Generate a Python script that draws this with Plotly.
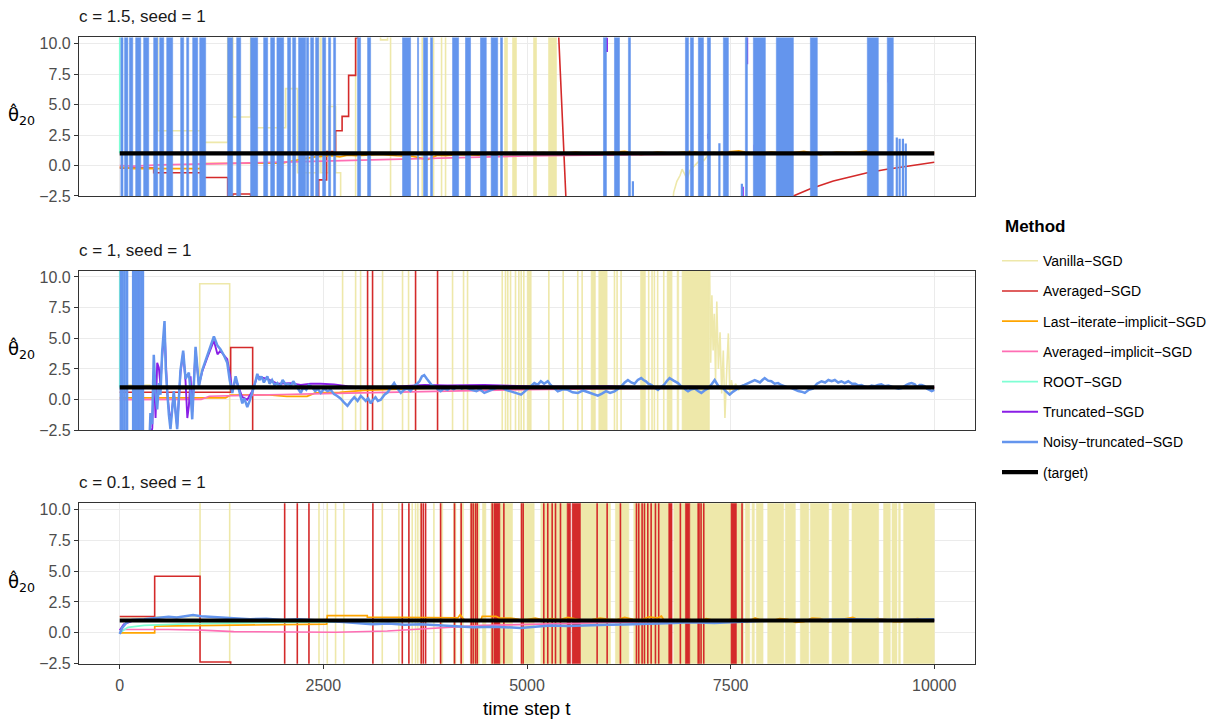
import plotly.graph_objects as go
from plotly.subplots import make_subplots

# ---------------------------------------------------------------- constants
T_END = 10000
TARGET = 1.0
HI, LO = 60.0, -60.0            # off-scale levels (diverged estimates)

METHODS = ["Vanilla\u2212SGD", "Averaged\u2212SGD", "Last\u2212iterate\u2212implicit\u2212SGD",
           "Averaged\u2212implicit\u2212SGD", "ROOT\u2212SGD", "Truncated\u2212SGD",
           "Noisy\u2212truncated\u2212SGD"]
COLORS = ["#EEE8AA", "#D42A2A", "#FFA500", "#FF6EB4", "#7FFFD4", "#8A1EE6", "#6495ED"]
WIDTHS = [1.6, 1.6, 1.7, 1.7, 1.8, 1.9, 2.5]
PANEL_TITLES = ["c = 1.5, seed = 1", "c = 1, seed = 1", "c = 0.1, seed = 1"]
X_TICKS = [0, 2500, 5000, 7500, 10000]
Y_TICKS = [-2.5, 0.0, 2.5, 5.0, 7.5, 10.0]

# ================================================================ panel 1 : c = 1.5
p1_van_t = [0, 466, 994, 1325, 1387, 1607, 1669, 2037, 2184, 2442, 2470, 2564, 2650, 2712,
            2896, 3202, 3288, 3325, 3714, 3853, 3951, 4000, 6790]
p1_van_v = [HI, 2.85, 1.9, HI, 3.98, HI, 3.09, 6.3, -0.59, HI, -0.59, 4.84, -0.59, LO,
            HI, 10.3, HI, LO, HI, LO, HI, LO, LO]
p1_van_bands = [[4724, 4761], [4822, 4871], [5080, 5117], [5264, 5362]]
p1_van_tail_t = [6790, 6801, 6840, 6880, 6904, 6930, 6966, 7000, 7047, 7090, 7129, 7170,
                 7211, 7250, 7292, 7400, 7600, 8000, 8500, 9000, 9500, 10000]
p1_van_tail_v = [-3.0, -2.2, -1.3, -0.8, -0.3, -0.7, -1.1, -0.4, -0.05, 0.2, 0.48, 0.4,
                 0.75, 0.9, 1.1, 0.95, 1.0, 1.05, 0.95, 1.0, 1.05, 1.0]

p1_avg_t = [0, 417, 994, 1325, 1387, 1607, 2442, 2540, 2650, 2730, 2810, 2896, 2920, 5380]
p1_avg_v = [-0.2, -0.59, -0.99, LO, -2.34, LO, -1.18, 1.15, 2.85, 4.03, 7.39, 10.45, HI, HI]
p1_avg_tail_t = [5380, 5400, 5420, 5440, 5460, 5480, 5600, 8000, 8270, 8479, 8761, 9000,
                 9178, 9400, 9583, 9800, 10000]
p1_avg_tail_v = [12.0, 9.0, 6.0, 3.0, 0.0, -3.0, -40.0, -4.0, -2.5, -1.9, -1.27, -0.85,
                 -0.59, -0.33, -0.13, 0.08, 0.27]

p1_lii_t = [0, 170, 600, 990, 1000, 1500, 2000, 2100, 2200, 2300, 2400, 2500, 2600, 2700,
            2800, 2900, 3000, 3200, 3400, 3600, 3780, 3853, 3900, 4000, 4200, 4400, 4600,
            4800, 5000, 5200, 5400, 5600, 5800, 6000, 6200, 6400, 6600, 6800, 7000, 7200,
            7400, 7600, 7800, 8000, 8200, 8400, 8600, 8800, 9000, 9200, 9400, 9600, 9800,
            10000]
p1_lii_v = [-0.1, -0.25, -0.25, -0.25, 0.15, 0.2, 0.2, 0.35, 0.5, 0.6, 0.7, 0.75, 0.8, 0.7,
            0.85, 0.8, 0.85, 0.9, 0.8, 0.75, 0.48, 0.7, 0.85, 0.8, 0.9, 0.85, 0.95, 0.9,
            1.0, 1.05, 0.95, 1.1, 0.95, 1.05, 1.15, 0.9, 1.1, 1.0, 1.15, 0.95, 1.1, 1.2,
            0.95, 1.1, 1.0, 1.15, 0.9, 1.1, 1.05, 1.2, 0.95, 1.1, 1.0, 1.05]

p1_aim_t = [0, 170, 500, 1000, 1500, 2000, 2500, 3000, 3500, 4000, 4675, 5000, 5500, 6000,
            7000, 8000, 9000, 10000]
p1_aim_v = [0.0, -0.05, 0.05, 0.15, 0.2, 0.28, 0.37, 0.45, 0.55, 0.62, 0.75, 0.78, 0.83,
            0.88, 0.93, 0.96, 0.98, 1.0]

p1_root_t = [0, 1, 10000]
p1_root_v = [1.0, HI, HI]

# short visible pieces of the truncated-SGD trajectory: (t, from, to)
p1_tr_segs = [(5980, 9.3, 10.5), (7227, 2.2, 2.6), (7648, -2.5, -1.75), (7702, 8.3, 10.5),
              (7795, 1.0, 1.7), (7825, -2.15, -1.85), (7856, 2.6, 3.6), (7906, 4.5, 5.9),
              (8143, 3.7, 4.1), (8528, 6.0, 8.3), (9206, 2.9, 8.4), (9440, 6.8, 7.7)]

p1_nt_bands = [[14, 40], [60, 100], [120, 160], [196, 258], [294, 356], [417, 466],
               [491, 540], [577, 650], [748, 785], [822, 847], [896, 957], [982, 1055],
               [1325, 1387], [1436, 1485], [1607, 1693], [1767, 1816], [1853, 1900],
               [1930, 2012], [2061, 2098], [2123, 2160], [2196, 2282], [2294, 2319],
               [2344, 2380], [2405, 2442], [2491, 2528], [2564, 2589], [2626, 2650],
               [2920, 2957], [3043, 3080], [3472, 3571], [3656, 3669], [3730, 3779],
               [3816, 3840], [4086, 4160], [4245, 4307], [4429, 4500], [4560, 4640],
               [4675, 4699], [5939, 5975], [6074, 6135], [6245, 6270], [6945, 6982],
               [7006, 7043], [7104, 7166], [7215, 7252], [7411, 7472], [7681, 7706],
               [7779, 7926], [8061, 8270], [8479, 8564], [9178, 9313], [9423, 9497]]
p1_nt_segs = [(6300, LO, -1.3), (7362, LO, 1.83), (7638, LO, -1.5), (9540, LO, 2.3),
              (9575, LO, 2.2), (9615, LO, 2.2), (9650, LO, 1.8)]

# ================================================================ panel 2 : c = 1
p2_van_t = [0, 370, 982, 1350, 7240]
p2_van_v = [1.2, 1.0, 9.45, LO, LO]
p2_van_spikes = [2736, 2896, 2957, 3227, 3472, 3546, 4086, 4221, 4270, 4696, 4736, 4764,
                 4798, 4859, 4900, 4929, 4961, 5268, 5444, 5623, 5677, 6074, 6106, 6155,
                 6494, 6535, 6564, 6604, 6679]
p2_van_bands = [[5003, 5052], [5787, 5840], [5881, 5984], [6393, 6454], [6720, 6781],
                [6843, 6863], [6904, 7240]]
p2_van_tail_t = [7240, 7255, 7270, 7285, 7300, 7315, 7330, 7350, 7370, 7390, 7410, 7430,
                 7450, 7472, 7490, 7510, 7534, 7560, 7600, 7650, 7700, 7800, 8000, 8500,
                 9000, 9500, 10000]
p2_van_tail_v = [12.0, 3.0, 8.5, 4.0, 7.0, 1.5, 8.0, 2.5, 5.5, 0.5, 4.0, -1.5, 2.0, 5.4,
                 0.3, 1.6, 0.6, 1.3, 0.8, 1.2, 0.9, 1.05, 1.0, 1.0, 1.05, 1.0, 1.0]

p2_avg_t = [0, 1362, 1632, 3043, 3104, 3632, 3902, 10000]
p2_avg_v = [0.6, 4.25, LO, HI, LO, HI, LO, LO]

p2_lii_t = [0, 1300, 1360, 1800, 2050, 2300, 2400, 2700, 3000, 3300, 3600, 4000, 4500,
            5000, 5500, 6000, 6500, 7000, 7500, 8000, 8500, 9000, 9500, 10000]
p2_lii_v = [0.15, 0.15, 0.38, 0.4, 0.27, 0.27, 0.55, 0.6, 0.75, 0.85, 0.9, 0.95, 1.0, 0.95,
            1.05, 1.0, 0.95, 1.05, 0.9, 1.05, 0.95, 1.0, 1.05, 0.95]

p2_aim_t = [0, 1000, 1100, 1500, 2000, 2500, 3300, 4100, 5000, 6000, 7000, 8000, 10000]
p2_aim_v = [0.0, 0.02, 0.28, 0.32, 0.42, 0.5, 0.6, 0.75, 0.82, 0.9, 0.95, 0.98, 1.0]

p2_root_t = [0, 1, 10000]
p2_root_v = [1.0, HI, HI]

p2_tr_spikes = [170, 230, 270]
p2_tr_t = [360, 380, 400, 418, 440, 460, 480, 500, 521, 550, 583, 623, 664, 705, 746, 779,
           808, 830, 849, 870, 890, 931, 972, 1013, 1074, 1156, 1200, 1238, 1280, 1320,
           1360, 1382, 1423, 1464, 1505, 1566, 1628, 1689, 1812, 1935, 2099, 2222, 2345,
           2468, 2631, 2796, 2960, 3205, 3451, 3738, 4025, 4476, 5000, 5500, 6000, 6500,
           7000, 7500, 8000, 8500, 9000, 9500, 10000]
p2_tr_v = [-6.0, -3.0, -2.3, 2.3, -1.5, 3.0, 2.6, 1.2, 3.5, 5.8, 0.5, -2.0, 0.5, -2.2, 2.2,
           3.8, 1.5, -1.5, -0.5, 1.9, -1.0, 4.0, 1.2, 2.3, 3.4, 4.8, 3.7, 4.0, 3.6, 3.3,
           1.8, 0.7, 1.7, 0.9, 0.2, 0.0, 0.7, 1.9, 1.7, 1.3, 1.35, 1.2, 1.3, 1.3, 1.25,
           1.1, 1.0, 1.0, 1.1, 1.2, 1.15, 1.2, 1.1, 1.05, 1.1, 1.0, 1.05, 1.0, 1.05, 1.0,
           1.05, 1.0, 1.0]

p2_nt_spikes = [14, 35, 60, 90, 165, 190, 215, 240, 265, 285]
p2_nt_t = [350, 377, 398, 418, 440, 460, 480, 500, 521, 550, 565, 583, 603, 623, 644, 664,
           685, 705, 746, 779, 808, 849, 870, 890, 931, 972, 1013, 1074, 1110, 1156, 1200,
           1238, 1280, 1320, 1350, 1382, 1423, 1464,
           1505, 1530, 1566, 1595, 1628, 1655, 1689, 1715, 1740, 1770, 1812, 1840, 1870,
           1900, 1935, 1965, 2000, 2040, 2070, 2099, 2130, 2160, 2190, 2222, 2255, 2290,
           2320, 2345, 2375, 2400, 2430, 2468, 2510, 2550, 2590, 2631, 2670, 2710, 2750,
           2796, 2840, 2880, 2920, 2960, 2990, 3020, 3050, 3082, 3110, 3140, 3170, 3205,
           3250, 3290, 3330, 3369, 3410, 3451, 3490, 3530, 3570, 3615, 3650, 3680, 3710,
           3738, 3770, 3800, 3830, 3861, 3900, 3940, 3980, 4025, 4060, 4100, 4150, 4200,
           4240, 4271, 4320, 4380, 4420, 4476, 4530, 4580, 4630, 4681, 4740, 4800, 4860,
           4927, 4960, 5000, 5040, 5090, 5130, 5170, 5210, 5255, 5290, 5320, 5350, 5378,
           5440, 5500, 5560, 5624, 5690, 5750, 5810, 5870, 5920, 5970, 6020, 6074, 6120,
           6160, 6200, 6239, 6280, 6320, 6360, 6402, 6430, 6460, 6490, 6525, 6565, 6608,
           6640, 6680, 6715, 6750, 6800, 6854, 6890, 6920, 6950, 6977, 7020, 7060, 7100,
           7140, 7180, 7220, 7260, 7304, 7350, 7400, 7440, 7488, 7520, 7560, 7600, 7632,
           7670, 7710, 7750, 7796, 7830, 7860, 7890, 7918, 7960, 8000, 8040, 8083, 8120,
           8160, 8200, 8247, 8290, 8330, 8370, 8411, 8460, 8510, 8560, 8616, 8660, 8700,
           8740, 8779, 8820, 8860, 8900, 8944, 8990, 9030, 9070, 9107, 9150, 9190, 9230,
           9271, 9310, 9350, 9390, 9436, 9480, 9520, 9560, 9599, 9630, 9660, 9690, 9722,
           9760, 9790, 9820, 9845, 9880, 9910, 9940, 9968, 10000]
p2_nt_v = [-6.0, -1.09, -2.0, 3.66, 0.5, -0.8, 1.35, 0.4, 3.9, 6.4, 2.5, 0.2, -1.2, -2.4,
           -0.4, 0.7, -1.0, -2.4, 2.4, 4.0, 1.7, 2.2, 0.6, -1.6, 4.3, 1.1, 2.4, 3.5, 4.3,
           5.15, 4.4, 4.1, 3.6, 3.0, 1.6, 0.55, 1.9, 0.8,
           -0.3, 0.1, -0.6, -0.1, 0.55, 1.2, 2.1, 1.6, 1.9, 1.4, 1.9, 1.3, 1.6,
           1.2, 1.35, 1.0, 1.6, 1.2, 1.3, 1.1, 1.5, 1.2, 0.8, 0.55, 1.0, 0.8,
           1.2, 1.1, 0.9, 0.7, 0.9, 0.55, 0.9, 0.7, 0.8, 0.45, 0.3, 0.1, -0.2,
           -0.5, -0.1, 0.2, -0.1, 0.3, 0.1, -0.1, 0.1, -0.3, 0.0, 0.2, -0.1, 0.0,
           0.4, 0.6, 1.0, 1.35, 0.9, 0.55, 0.8, 0.9, 0.7, 1.1, 1.3, 1.5, 1.9,
           2.0, 1.7, 1.4, 1.2, 1.1, 0.9, 0.7, 0.9, 0.8, 1.0, 0.85, 1.1, 0.9,
           1.05, 0.95, 0.8, 0.7, 0.85, 0.55, 0.7, 0.8, 0.95, 1.1, 0.8, 0.7, 0.55,
           0.41, 0.6, 0.8, 1.1, 1.35, 1.2, 1.5, 1.3, 1.5, 1.2, 1.0, 0.8, 0.68,
           0.85, 0.8, 0.6, 0.55, 0.75, 0.6, 0.45, 0.33, 0.5, 0.7, 0.55, 0.68, 0.9,
           1.1, 1.4, 1.6, 1.4, 1.3, 1.6, 1.76, 1.6, 1.5, 1.3, 1.2, 1.0, 0.8,
           1.0, 1.2, 1.5, 1.76, 1.55, 1.35, 1.1, 1.0, 0.8, 0.68, 0.85, 0.9, 0.7,
           0.55, 0.75, 0.9, 1.2, 1.6, 1.1, 1.0, 0.7, 0.41, 0.6, 0.8, 1.0, 1.1,
           1.2, 1.3, 1.45, 1.6, 1.5, 1.4, 1.6, 1.76, 1.55, 1.5, 1.3, 1.35, 1.2,
           1.1, 1.0, 0.95, 0.8, 0.7, 0.65, 0.55, 0.8, 0.9, 1.3, 1.5, 1.4, 1.6,
           1.5, 1.6, 1.4, 1.5, 1.35, 1.5, 1.3, 1.3, 1.15, 1.2, 1.05, 1.0, 1.15,
           1.1, 1.2, 1.25, 1.1, 1.15, 1.05, 1.0, 0.9, 0.95, 1.1, 1.2, 1.3, 1.35,
           1.25, 1.0, 1.2, 1.2, 1.1, 0.9, 0.8, 0.7, 0.8]

# ================================================================ panel 3 : c = 0.1
p3_van_t = [0, 986, 1350, 10000]
p3_van_v = [1.3, HI, LO, LO]
p3_van_spikes = [2446, 2548, 2650, 2752, 3223, 3427, 3591, 3632, 3660, 3693, 3857]
p3_van_bands = [[3939, 3965], [4098, 4127], [4180, 4221], [4303, 4413], [4454, 4495],
                [4556, 4822], [4924, 5088], [5170, 5493], [5656, 6025], [6086, 6250],
                [6311, 6761], [6802, 7660], [7681, 7734], [7763, 7791], [7816, 7898],
                [7955, 8151], [8172, 8294], [8356, 8458], [8479, 8703], [8745, 8949],
                [8990, 9317], [9378, 9460], [9481, 9542], [9562, 9583], [9624, 10000]]

p3_avg_t = [0, 429, 986, 1362, 10000]
p3_avg_v = [1.32, 4.59, -2.36, LO, LO]
p3_avg_spikes = [2025, 2180, 2323, 3108, 3469, 3550, 3702, 3727, 3755, 3939, 4110, 4192,
                 4315, 4339, 4368, 4389, 4573, 4716, 4933, 4953, 5206, 5255, 5309, 5350,
                 5411, 5861, 5984, 6147, 6344, 6372, 6413, 6442, 6483, 6524, 6577, 6617,
                 6883, 7137, 7170, 7640]
p3_avg_bands = [[4593, 4667], [5493, 5534], [5554, 5656], [6740, 6781], [6945, 6998],
                [7096, 7120], [7505, 7571]]

p3_lii_t = [0, 429, 430, 2000, 2540, 2548, 3039, 3040, 3857, 3860, 4150, 4180, 4210, 4250,
            4430, 4450, 4620, 4660, 4800, 4900, 5000, 5100, 5200, 5300, 5400, 5500, 5600,
            5700, 5800, 5900, 6000, 6100, 6200, 6300, 6400, 6500, 6600, 6650, 6700, 6800,
            6900, 7000, 7100, 7200, 7300, 7400, 7500, 7600, 7700, 7800, 7900, 8000, 8100,
            8200, 8300, 8400, 8500, 8600, 8700, 8800, 8900, 9000, 9100, 9200, 9300, 9400,
            9500, 9600, 9700, 9800, 9900, 10000]
p3_lii_v = [0.0, 0.0, 0.55, 0.65, 0.7, 1.39, 1.39, 1.27, 1.27, 1.21, 1.21, 1.47, 1.2, 0.95,
            0.95, 1.34, 1.34, 1.2, 1.2, 1.1, 1.08, 1.2, 1.05, 1.15, 1.05, 1.25, 1.1,
            1.0, 1.08, 1.2, 1.1, 1.05, 1.25, 1.1, 1.05, 1.3, 1.2, 1.35, 0.85, 0.8,
            0.95, 1.1, 0.9, 1.15, 1.0, 0.9, 1.1, 1.05, 0.85, 1.2, 0.95, 0.95, 1.15,
            1.1, 0.85, 0.9, 1.2, 1.15, 0.9, 1.0, 1.1, 1.25, 0.95, 0.95, 1.15, 1.1,
            0.9, 0.9, 1.1, 1.15, 0.95, 1.05]

p3_aim_t = [0, 50, 600, 1000, 1400, 2200, 2650, 3285, 3857, 4450, 5170, 6000, 7000, 8000,
            10000]
p3_aim_v = [0.0, 0.27, 0.27, 0.22, 0.1, 0.08, 0.05, 0.15, 0.37, 0.6, 0.7, 0.85, 0.95, 0.98,
            1.0]

p3_root_t = [0, 100, 300, 800, 1500, 3000, 5000, 10000]
p3_root_v = [0.0, 0.45, 0.6, 0.72, 0.82, 0.92, 0.97, 1.0]

p3_tr_t = [0, 50, 150, 400, 1000, 3000, 10000]
p3_tr_v = [0.2, 0.7, 0.95, 1.0, 1.02, 1.0, 1.0]

p3_nt_t = [0, 30, 80, 150, 300, 500, 600, 700, 800, 900, 1000, 1100, 1200, 1400, 1600,
           1800, 2000, 2200, 2500, 2700, 2900, 3100, 3300, 3500, 3700, 3939, 4100, 4339,
           4600, 4920, 5100, 5290, 5500, 5750, 5984, 6200, 6400, 6600, 6800, 7000, 7300,
           7600, 8000, 8500, 9000, 9500, 10000]
p3_nt_v = [-0.1, 0.4, 0.8, 1.05, 1.1, 1.2, 1.3, 1.25, 1.35, 1.45, 1.35, 1.3, 1.25, 1.2,
           1.1, 1.15, 1.05, 1.1, 1.0, 0.9, 0.8, 0.7, 0.75, 0.65, 0.7, 0.6, 0.55, 0.46,
           0.5, 0.4, 0.5, 0.6, 0.55, 0.62, 0.65, 0.68, 0.7, 0.75, 0.8, 0.85, 0.8, 0.9,
           1.0, 1.05, 1.1, 1.05, 1.1]

TARGET_T = [0, T_END]

# ---------------------------------------------------------------- figure
fig = make_subplots(rows=3, cols=1)
shown = set()


def _legend(k):
    if k not in shown:
        shown.add(k)
        return True
    return False


def add_path(row, k, t, v, shape="linear"):
    fig.add_trace(go.Scatter(
        x=t, y=v, mode="lines", name=METHODS[k], legendgroup=METHODS[k],
        legendrank=k + 1, showlegend=_legend(k), hoverinfo="skip",
        line=dict(color=COLORS[k], width=WIDTHS[k], shape=shape)), row=row, col=1)


def add_spikes(row, k, times):
    xs, ys = [], []
    for s in times:
        xs += [s, s, None]
        ys += [LO, HI, None]
    fig.add_trace(go.Scatter(
        x=xs, y=ys, mode="lines", legendgroup=METHODS[k], showlegend=False,
        hoverinfo="skip", line=dict(color=COLORS[k], width=WIDTHS[k])), row=row, col=1)


def add_segments(row, k, segs):
    xs, ys = [], []
    for s, a, b in segs:
        xs += [s, s, None]
        ys += [a, b, None]
    fig.add_trace(go.Scatter(
        x=xs, y=ys, mode="lines", legendgroup=METHODS[k], showlegend=False,
        hoverinfo="skip", line=dict(color=COLORS[k], width=2.2)), row=row, col=1)


def add_bands(row, k, bands):
    xs, ys = [], []
    for a, b in bands:
        xs += [a, a, b, b, a, None]
        ys += [LO, HI, HI, LO, LO, None]
    fig.add_trace(go.Scatter(
        x=xs, y=ys, mode="lines", fill="toself", fillcolor=COLORS[k],
        legendgroup=METHODS[k], showlegend=False, hoverinfo="skip",
        line=dict(color=COLORS[k], width=0.6)), row=row, col=1)


def add_target(row):
    fig.add_trace(go.Scatter(
        x=TARGET_T, y=[TARGET, TARGET], mode="lines", name="(target)",
        legendgroup="(target)", legendrank=8, showlegend=(row == 1), hoverinfo="skip",
        line=dict(color="#000000", width=4.2)), row=row, col=1)


# panel 1
add_path(1, 0, p1_van_t, p1_van_v, "hv")
add_bands(1, 0, p1_van_bands)
add_path(1, 0, p1_van_tail_t, p1_van_tail_v)
add_path(1, 1, p1_avg_t, p1_avg_v, "hv")
add_path(1, 1, p1_avg_tail_t, p1_avg_tail_v)
add_path(1, 2, p1_lii_t, p1_lii_v)
add_path(1, 3, p1_aim_t, p1_aim_v)
add_path(1, 4, p1_root_t, p1_root_v, "hv")
add_segments(1, 5, p1_tr_segs)
add_bands(1, 6, p1_nt_bands)
add_segments(1, 6, p1_nt_segs)
add_target(1)

# panel 2
add_path(2, 0, p2_van_t, p2_van_v, "hv")
add_spikes(2, 0, p2_van_spikes)
add_bands(2, 0, p2_van_bands)
add_path(2, 0, p2_van_tail_t, p2_van_tail_v)
add_path(2, 1, p2_avg_t, p2_avg_v, "hv")
add_path(2, 2, p2_lii_t, p2_lii_v)
add_path(2, 3, p2_aim_t, p2_aim_v)
add_path(2, 4, p2_root_t, p2_root_v, "hv")
add_spikes(2, 5, p2_tr_spikes)
add_path(2, 5, p2_tr_t, p2_tr_v)
add_spikes(2, 6, p2_nt_spikes)
add_path(2, 6, p2_nt_t, p2_nt_v)
add_target(2)

# panel 3
add_path(3, 0, p3_van_t, p3_van_v, "hv")
add_spikes(3, 0, p3_van_spikes)
add_bands(3, 0, p3_van_bands)
add_path(3, 1, p3_avg_t, p3_avg_v, "hv")
add_spikes(3, 1, p3_avg_spikes)
add_bands(3, 1, p3_avg_bands)
add_path(3, 2, p3_lii_t, p3_lii_v)
add_path(3, 3, p3_aim_t, p3_aim_v)
add_path(3, 4, p3_root_t, p3_root_v)
add_path(3, 5, p3_tr_t, p3_tr_v)
add_path(3, 6, p3_nt_t, p3_nt_v)
add_target(3)

# ---------------------------------------------------------------- layout
W, H = 1215, 719
X_DOM = [79 / W, 975 / W]
PANEL_PX = [(36, 197), (273, 435), (509, 672)]
FONT = "Liberation Sans, Arial, Helvetica, sans-serif"

axis_common = dict(showline=True, mirror=True, linecolor="#333333", linewidth=1.1,
                   showgrid=True, gridcolor="#EBEBEB", gridwidth=1.1, zeroline=False,
                   ticklen=4, tickwidth=1.1, tickcolor="#333333",
                   tickfont=dict(family=FONT, size=16, color="#4D4D4D"))

annotations = []
for i, (top, bot) in enumerate(PANEL_PX):
    r = i + 1
    fig.update_xaxes(row=r, col=1, domain=X_DOM, range=[-500, 10500], tickvals=X_TICKS,
                     ticktext=[str(v) for v in X_TICKS], ticklabelstandoff=3,
                     showticklabels=(r == 3), ticks="outside" if r == 3 else "",
                     **axis_common)
    fig.update_yaxes(row=r, col=1, domain=[1 - bot / H, 1 - top / H], range=[-2.5, 10.5],
                     tickvals=Y_TICKS, tickformat=".1f", ticks="outside", **axis_common)
    annotations.append(dict(text=PANEL_TITLES[i], x=77 / W, y=1 - (top - 21) / H,
                            xref="paper", yref="paper", xanchor="left", yanchor="middle",
                            showarrow=False, font=dict(family=FONT, size=17, color="#1A1A1A")))
    mid = (top + bot) / 2
    annotations.append(dict(text="\u03b8\u0302<sub>20</sub>", x=6 / W, y=1 - (mid - 1) / H,
                            xref="paper", yref="paper", xanchor="left", yanchor="middle",
                            showarrow=False,
                            font=dict(family="DejaVu Sans", size=18, color="#000000")))

annotations.append(dict(text="time step t", x=527 / W, y=1 - 717 / H, xref="paper",
                        yref="paper", xanchor="center", yanchor="middle", showarrow=False,
                        font=dict(family=FONT, size=19, color="#000000")))
annotations.append(dict(text="<b>Method</b>", x=1003 / W, y=1 - 228 / H, xref="paper",
                        yref="paper", xanchor="left", yanchor="middle", showarrow=False,
                        font=dict(family=FONT, size=17, color="#000000")))

fig.update_layout(
    width=W, height=H, autosize=False,
    margin=dict(l=0, r=0, t=0, b=0),
    paper_bgcolor="white", plot_bgcolor="white",
    annotations=annotations,
    showlegend=True,
    legend=dict(font=dict(family=FONT, size=14, color="#000"),
                x=997 / W, y=1 - 247 / H, xanchor="left", yanchor="top",
                tracegroupgap=9, traceorder="grouped", itemwidth=36,
                bgcolor="rgba(0,0,0,0)"),
    font=dict(family=FONT),
)

fig.write_html("out.html", config={"displayModeBar": False},
               post_script="document.body.style.margin='0';")
